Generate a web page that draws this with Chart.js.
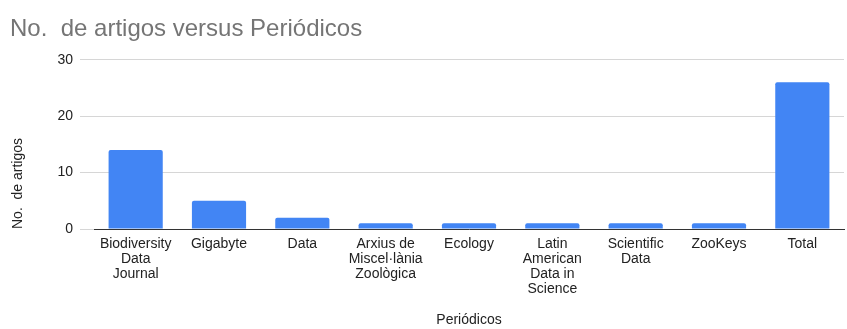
<!DOCTYPE html>
<html>
<head>
<meta charset="utf-8">
<script src="https://cdn.jsdelivr.net/npm/chart.js@4"></script>
<style>
  html, body { margin: 0; padding: 0; background: #fff; }
  #wrap { width: 847px; height: 329px; position: relative; }
</style>
</head>
<body>
<div id="wrap"><canvas id="chart"></canvas></div>
<script>
// Data
const journals = [
    ['Biodiversity', 'Data', 'Journal'],
    'Gigabyte',
    'Data',
    ['Arxius de', 'Miscel·lània', 'Zoològica'],
    'Ecology',
    ['Latin', 'American', 'Data in', 'Science'],
    ['Scientific', 'Data'],
    'ZooKeys',
    'Total'
];
const articleCounts = [14, 5, 2, 1, 1, 1, 1, 1, 26];
const yTicks = [0, 10, 20, 30];

const font = 'Arial, "Liberation Sans", sans-serif';

const ctx = document.getElementById('chart').getContext('2d');

new Chart(ctx, {
    type: 'bar',
    data: {
        labels: journals,
        datasets: [{
            label: 'No.  de artigos',
            data: articleCounts,
            backgroundColor: '#4285f4',
            borderRadius: { topLeft: 2, topRight: 2 },
            borderSkipped: 'bottom',
            categoryPercentage: 0.65,
            barPercentage: 1
        }]
    },
    options: {
        responsive: true,
        maintainAspectRatio: false,
        animation: false,
        layout: { padding: { left: 10, right: 3, top: 0, bottom: 0 } },
        plugins: {
            legend: { display: false },
            tooltip: { enabled: false },
            title: {
                display: true,
                text: 'No.  de artigos versus Periódicos',
                align: 'start',
                color: '#757575',
                font: { family: font, size: 24, weight: 'normal' },
                padding: { top: 15, bottom: 16 }
            }
        },
        scales: {
            x: {
                grid: { display: false, drawTicks: false },
                border: { color: '#333', width: 1 },
                ticks: {
                    color: '#222',
                    font: { family: font, size: 14, lineHeight: 1.07 },
                    maxRotation: 0,
                    autoSkip: false,
                    padding: 8
                },
                title: {
                    display: true,
                    text: 'Periódicos',
                    color: '#222',
                    font: { family: font, size: 14 },
                    padding: { top: 0, bottom: 0 }
                },
                afterFit: scale => { scale.height = 100; }
            },
            y: {
                min: 0,
                max: 30,
                afterBuildTicks: scale => {
                    scale.ticks = yTicks.map(v => ({ value: v }));
                },
                grid: {
                    color: '#d6d6d6',
                    tickLength: 14,
                    tickColor: '#d6d6d6'
                },
                border: { display: false },
                ticks: {
                    color: '#222',
                    font: { family: font, size: 14 },
                    padding: 7
                },
                title: {
                    display: true,
                    text: 'No.  de artigos',
                    align: 'start',
                    color: '#222',
                    font: { family: font, size: 14 },
                    padding: { top: 0, bottom: 0 }
                },
                afterFit: scale => { scale.width = 84; }
            }
        }
    }
});
</script>
</body>
</html>
